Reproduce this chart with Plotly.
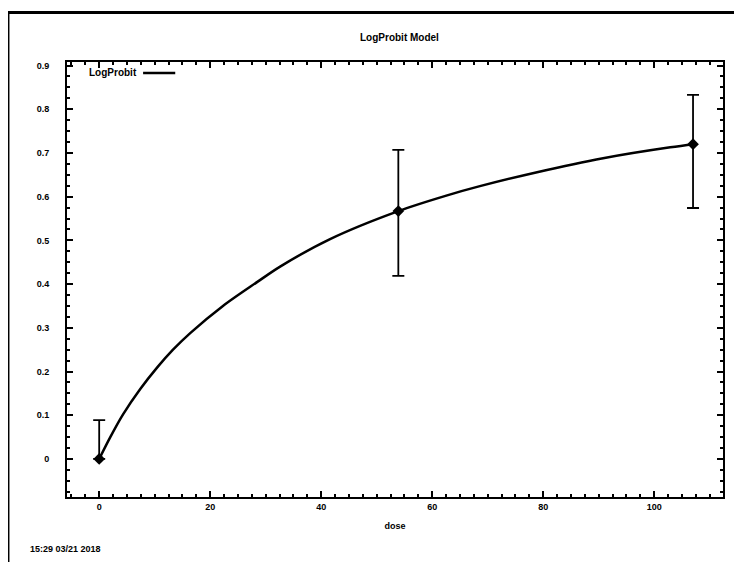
import plotly.graph_objects as go

# Fitted model curve
curve_dose = [0, 2, 4.3, 7.4, 10.5, 13.3, 16.4, 22.3, 28.5, 32.6, 41.6, 53.9, 62.7, 68.6, 78.9, 90.8, 102.9, 107.2]
curve_resp = [0, 0.050, 0.102, 0.160, 0.210, 0.250, 0.288, 0.350, 0.405, 0.440, 0.503, 0.567, 0.603, 0.624, 0.656, 0.688, 0.713, 0.720]

# Observed points with confidence limits
obs_dose = [0, 53.9, 107]
obs_mean = [0, 0.567, 0.720]
obs_upper = [0.089, 0.707, 0.833]
obs_lower = [0, 0.419, 0.574]

x_ticks = [0, 20, 40, 60, 80, 100]
y_ticks = [0, 0.1, 0.2, 0.3, 0.4, 0.5, 0.6, 0.7, 0.8, 0.9]
y_ticktext = ["0", "0.1", "0.2", "0.3", "0.4", "0.5", "0.6", "0.7", "0.8", "0.9"]

title_text = "LogProbit Model"
x_label = "dose"
legend_label = "LogProbit"
stamp = "15:29 03/21 2018"

err_plus = [u - m for u, m in zip(obs_upper, obs_mean)]
err_minus = [m - l for m, l in zip(obs_mean, obs_lower)]

font_family = "Liberation Sans, Arial, sans-serif"

fig = go.Figure()
fig.add_trace(go.Scatter(
    x=curve_dose, y=curve_resp, mode="lines", line=dict(color="black", width=2.5, shape="spline", smoothing=0.9),
    showlegend=False, hoverinfo="skip"))
fig.add_trace(go.Scatter(
    x=obs_dose, y=obs_mean, mode="markers",
    marker=dict(symbol="diamond", size=9, color="black"),
    error_y=dict(type="data", symmetric=False, array=err_plus, arrayminus=err_minus,
                 color="black", thickness=1.8, width=6),
    showlegend=False))

axis_common = dict(
    showline=True, linecolor="black", linewidth=2, mirror="allticks",
    ticks="inside", ticklen=6, tickwidth=1.5, tickcolor="black",
    showgrid=False, zeroline=False,
    tickfont=dict(family=font_family, size=9, color="black", weight="bold"),
)

fig.update_xaxes(range=[-5.8, 112.4], tickvals=x_ticks,
                 minor=dict(ticks="inside", ticklen=3, tickcolor="black", dtick=2.5),
                 title=dict(text=x_label, font=dict(family=font_family, size=9, color="black", weight="bold"), standoff=12),
                 **axis_common)
fig.update_yaxes(range=[-0.087, 0.908], tickvals=y_ticks, ticktext=y_ticktext,
                 minor=dict(ticks="inside", ticklen=3, tickcolor="black", dtick=0.025),
                 ticklabelstandoff=14,
                 **axis_common)

shapes = [
    # outer frame
    dict(type="rect", xref="paper", yref="paper", x0=-0.09, x1=1.06, y0=-0.25, y1=1.114,
         line=dict(color="black", width=3)),
    # legend line
    dict(type="line", xref="paper", yref="paper", x0=0.116, x1=0.165, y0=0.975, y1=0.975,
         line=dict(color="black", width=2.5)),
]

annotations = [
    dict(text=title_text, xref="paper", yref="paper", x=0.507, y=1.057, yanchor="middle", showarrow=False,
         font=dict(family=font_family, size=10, color="black", weight="bold")),
    dict(text=legend_label, xref="paper", yref="paper", x=0.030, y=0.975, xanchor="left", yanchor="middle",
         showarrow=False, font=dict(family=font_family, size=10, color="black", weight="bold")),
    dict(text=stamp, xref="paper", yref="paper", x=-0.06, y=-0.12, xanchor="left", yanchor="middle", showarrow=False,
         font=dict(family=font_family, size=9, color="black", weight="bold")),
]

fig.update_layout(
    width=742, height=562,
    margin=dict(l=59, r=27, t=54, b=73),
    paper_bgcolor="white", plot_bgcolor="white",
    shapes=shapes, annotations=annotations,
    showlegend=False,
)

fig.write_html("out.html")
